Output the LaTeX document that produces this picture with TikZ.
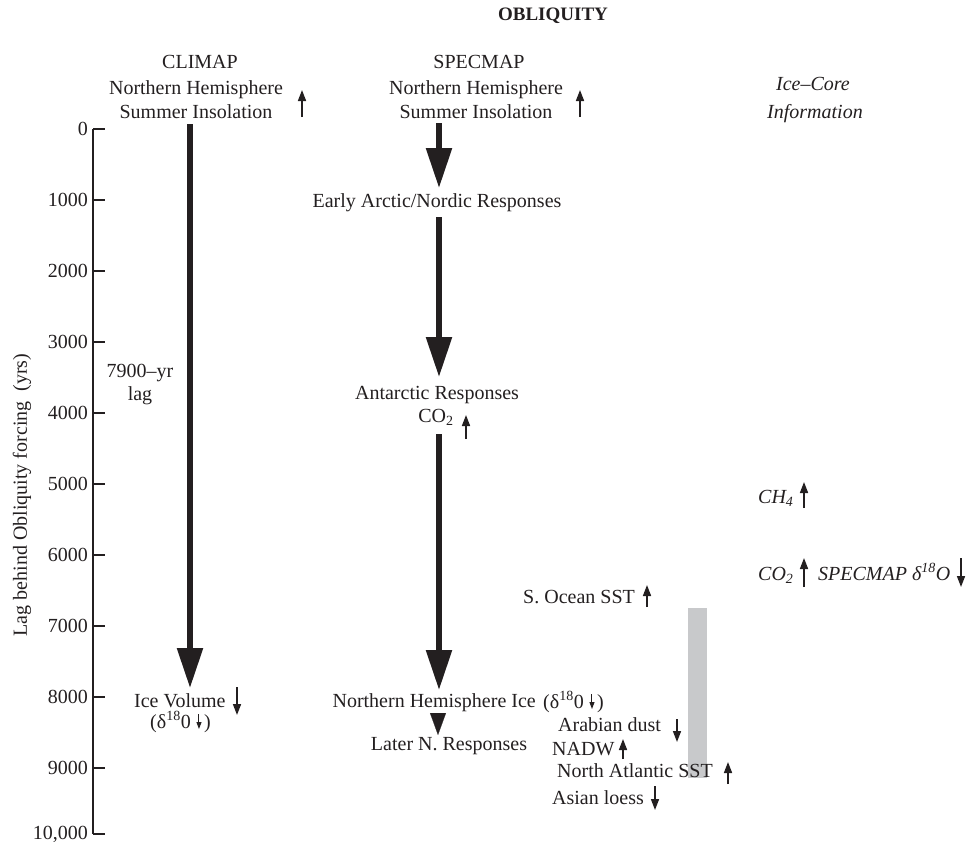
\documentclass[tikz,border=0pt]{standalone}
\usepackage{fontspec}
\setmainfont{Liberation Serif}
\usetikzlibrary{arrows.meta,calc}
\definecolor{ink}{RGB}{35,31,32}
\definecolor{barfill}{RGB}{200,201,203}
\begin{document}
\begin{tikzpicture}[x=1pt,y=-1pt,
  txt/.style={inner sep=0pt, text=ink, font=\fontsize{20}{24}\selectfont, anchor=base},
  itxt/.style={txt, font=\fontsize{20}{24}\selectfont\itshape},
  bigarrow/.style={draw=ink, line width=5.5pt, -{Triangle[width=25pt,length=40pt]}},
  headonly/.style={draw=ink, line width=0.2pt, -{Triangle[width=16pt,length=22pt]}},
  thinarrow/.style={draw=ink, line width=1.6pt, -{Triangle[width=8pt,length=11pt]}},
  tinyarrow/.style={draw=ink, line width=1pt, -{Triangle[width=5pt,length=7pt]}},
  axline/.style={draw=ink, line width=1.2pt}
]
\useasboundingbox (0,0) rectangle (966,844);

% gray bar
\fill[barfill] (688,608) rectangle (707,778);

% title
\node[txt, font=\fontsize{19}{23}\selectfont\bfseries] (title) at (553,20) {OBLIQUITY};

% headings
\node[txt] (climap) at (200,68) {CLIMAP};
\node[txt] (climapNH) at (196,94) {Northern Hemisphere};
\node[txt] (climapSI) at (196,118) {Summer Insolation};
\node[txt] (specmap) at (479,68) {SPECMAP};
\node[txt] (specNH) at (476,94) {Northern Hemisphere};
\node[txt] (specSI) at (476,118) {Summer Insolation};
\node[itxt] (icecore) at (813,90) {Ice–Core};
\node[itxt] (iceinfo) at (815,118) {Information};

\coordinate (cu1) at (302,117); \coordinate (cu2) at (302,90);
\draw[thinarrow] (cu1) -- (cu2);
\coordinate (su1) at (580,117); \coordinate (su2) at (580,90);
\draw[thinarrow] (su1) -- (su2);

% axis
\draw[axline] (93,129) -- (93,834);
\foreach \i/\l in {0/0,1/1000,2/2000,3/3000,4/4000,5/5000,6/6000,7/7000,8/8000,9/9000}{
  \draw[axline] (93,129+71*\i) -- (105,129+71*\i);
  \node[txt, anchor=east] (tl\i) at (88,129+71*\i) {\l};
}
\draw[axline] (93,834) -- (105,834);
\node[txt, anchor=east] (tl10) at (88,834) {10,000};
\node[txt, rotate=90, anchor=center] (ylab) at (22,495) {Lag behind Obliquity forcing\ \ (yrs)};

% CLIMAP column
\coordinate (ca) at (190,124); \coordinate (cb) at (190,688);
\draw[bigarrow] (ca) -- (cb);
\node[txt] (lag1) at (140,377) {7900–yr};
\node[txt] (lag2) at (140,400) {lag};
\node[txt, anchor=base west] (icevol) at (134,707) {Ice Volume};
\coordinate (iv1) at (237,687); \coordinate (iv2) at (237,715);
\draw[thinarrow] (iv1) -- (iv2);
\node[txt, anchor=base west] (d1) at (150,728) {(δ\textsuperscript{18}0};
\coordinate (d1a) at ($(d1.base east)+(8,-14)$);
\coordinate (d1b) at ($(d1.base east)+(8,1)$);
\draw[tinyarrow] (d1a) -- (d1b);
\node[txt, anchor=base west] (d1c) at ($(d1.base east)+(13,0)$) {)};

% SPECMAP column
\coordinate (s1a) at (439,123); \coordinate (s1b) at (439,188);
\draw[bigarrow] (s1a) -- (s1b);
\node[txt] (early) at (437,207) {Early Arctic/Nordic Responses};
\coordinate (s2a) at (439,217); \coordinate (s2b) at (439,377);
\draw[bigarrow] (s2a) -- (s2b);
\node[txt] (antarc) at (437,399) {Antarctic Responses};
\node[txt] (co2a) at (436,422) {CO\textsubscript{2}};
\coordinate (co2u1) at (466,439); \coordinate (co2u2) at (466,415);
\draw[thinarrow] (co2u1) -- (co2u2);
\coordinate (s3a) at (439,434); \coordinate (s3b) at (439,690);
\draw[bigarrow] (s3a) -- (s3b);
\node[txt, anchor=base east] (nhice) at (536,707) {Northern Hemisphere Ice};
\coordinate (h1) at (438,713); \coordinate (h2) at (438,735);
\draw[headonly] (h1) -- (h2);
\node[txt] (later) at (449,750) {Later N. Responses};

\node[txt, anchor=base west] (d2) at (543,708) {(δ\textsuperscript{18}0};
\coordinate (d2a) at ($(d2.base east)+(8,-14)$);
\coordinate (d2b) at ($(d2.base east)+(8,1)$);
\draw[tinyarrow] (d2a) -- (d2b);
\node[txt, anchor=base west] (d2c) at ($(d2.base east)+(13,0)$) {)};

\node[txt, anchor=base west] (socean) at (523,603) {S. Ocean SST};
\coordinate (so1) at (647,607); \coordinate (so2) at (647,585);
\draw[thinarrow] (so1) -- (so2);

\node[txt, anchor=base west] (arab) at (558,731) {Arabian dust};
\coordinate (ar1) at (677,719); \coordinate (ar2) at (677,742);
\draw[thinarrow] (ar1) -- (ar2);

\node[txt, anchor=base west] (nadw) at (552,755) {NADW};
\coordinate (na1) at (623,759); \coordinate (na2) at (623,739);
\draw[thinarrow] (na1) -- (na2);

\node[txt, anchor=base west] (nas) at (557,777) {North Atlantic SST};
\coordinate (ns1) at (728,784); \coordinate (ns2) at (728,762);
\draw[thinarrow] (ns1) -- (ns2);

\node[txt, anchor=base west] (asian) at (552,804) {Asian loess};
\coordinate (as1) at (655,786); \coordinate (as2) at (655,810);
\draw[thinarrow] (as1) -- (as2);

% ice core column
\node[itxt, anchor=base west] (ch4) at (758,503) {CH\textsubscript{4}};
\coordinate (ch1) at (804,508); \coordinate (ch2) at (804,482);
\draw[thinarrow] (ch1) -- (ch2);
\node[itxt, anchor=base west] (co2b) at (758,580) {CO\textsubscript{2}};
\coordinate (cb1) at (804,587); \coordinate (cb2) at (804,558);
\draw[thinarrow] (cb1) -- (cb2);
\node[itxt, anchor=base west] (specd) at (818,580) {SPECMAP δ\textsuperscript{18}O};
\coordinate (sd1) at (961,558); \coordinate (sd2) at (961,587);
\draw[thinarrow] (sd1) -- (sd2);
\end{tikzpicture}
\end{document}
